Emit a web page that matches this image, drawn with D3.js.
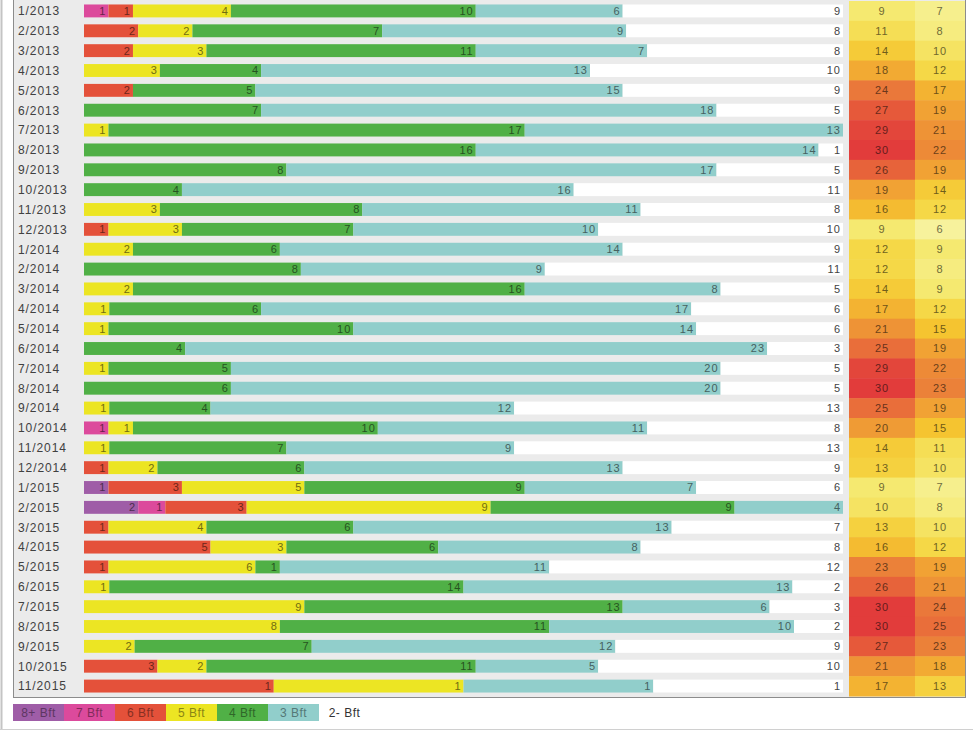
<!DOCTYPE html>
<html>
<head>
<meta charset="utf-8">
<script src="https://cdn.jsdelivr.net/npm/d3@7"></script>
<style>
  body { margin: 0; background: #fff; }
  text { font-family: "Liberation Sans", Arial, sans-serif; }
</style>
</head>
<body>
<div id="my_dataviz"></div>
<script>
// months (rows)
const months = ["1/2013","2/2013","3/2013","4/2013","5/2013","6/2013","7/2013","8/2013","9/2013","10/2013","11/2013","12/2013",
  "1/2014","2/2014","3/2014","4/2014","5/2014","6/2014","7/2014","8/2014","9/2014","10/2014","11/2014","12/2014",
  "1/2015","2/2015","3/2015","4/2015","5/2015","6/2015","7/2015","8/2015","9/2015","10/2015","11/2015"];

// days per wind force class
const bft8 = [0,0,0,0,0,0,0,0,0,0,0,0,0,0,0,0,0,0,0,0,0,0,0,0,1,2,0,0,0,0,0,0,0,0,0];
const bft7 = [1,0,0,0,0,0,0,0,0,0,0,0,0,0,0,0,0,0,0,0,0,1,0,0,0,1,0,0,0,0,0,0,0,0,0];
const bft6 = [1,2,2,0,2,0,0,0,0,0,0,1,0,0,0,0,0,0,0,0,0,0,0,1,3,3,1,5,1,0,0,0,0,3,1];
const bft5 = [4,2,3,3,0,0,1,0,0,0,3,3,2,0,2,1,1,0,1,0,1,1,1,2,5,9,4,3,6,1,9,8,2,2,1];
const bft4 = [10,7,11,4,5,7,17,16,8,4,8,7,6,8,16,6,10,4,5,6,4,10,7,6,9,9,6,6,1,14,13,11,7,11,0];
const bft3 = [6,9,7,13,15,18,13,14,17,16,11,10,14,9,8,17,14,23,20,20,12,11,9,13,7,4,13,8,11,13,6,10,12,5,1];
const bft2 = [9,8,8,10,9,5,0,1,5,11,8,10,9,11,5,6,6,3,5,5,13,8,13,9,6,0,7,8,12,2,3,2,9,10,1];

// temperature columns
const tempHigh = [9,11,14,18,24,27,29,30,26,19,16,9,12,12,14,17,21,25,29,30,25,20,14,13,9,10,13,16,23,26,30,30,27,21,17];
const tempLow  = [7,8,10,12,17,19,21,22,19,14,12,6,9,8,9,12,15,19,22,23,19,15,11,10,7,8,10,12,19,21,24,25,23,18,13];

const classes = ["8+ Bft","7 Bft","6 Bft","5 Bft","4 Bft","3 Bft","2- Bft"];
const classColors = ["#9f5da7","#dc4a9c","#e4513a","#ece523","#50b046","#91cecb","#ffffff"];
const series = [bft8, bft7, bft6, bft5, bft4, bft3, bft2];

const width = 973, height = 731;

const svg = d3.select("#my_dataviz")
  .append("svg")
    .attr("width", width)
    .attr("height", height);

// outer frame
svg.append("line").attr("x1", 1.5).attr("x2", 1.5).attr("y1", 0).attr("y2", 729.5)
  .attr("stroke", "#c4c4c4").attr("stroke-width", 2);
svg.append("line").attr("x1", 0).attr("x2", width).attr("y1", 729.5).attr("y2", 729.5)
  .attr("stroke", "#d0d0d0");

// panel
svg.append("rect")
  .attr("x", 13.5).attr("y", -2)
  .attr("width", 952).attr("height", 699.5)
  .attr("fill", "#ebebeb")
  .attr("stroke", "#8c8c8c");

const y = d3.scaleBand()
  .domain(months)
  .range([1, 696])
  .paddingInner(0.35)
  .paddingOuter(0.175);

const x = d3.scaleLinear()
  .domain([0, 1])
  .range([84, 843]);

// stacked rows, normalised per month
const rows = months.map((m, i) => {
  const vals = series.map(s => s[i]);
  const total = d3.sum(vals);
  let acc = 0;
  const segs = vals.map((v, k) => {
    const s = {month: m, k: k, value: v, x0: acc / total, x1: (acc + v) / total};
    acc += v;
    return s;
  });
  return segs;
});
const segs = rows.flat();

svg.append("g")
  .selectAll("rect")
  .data(segs.filter(d => d.value > 0))
  .join("rect")
    .attr("x", d => x(d.x0))
    .attr("y", d => y(d.month))
    .attr("width", d => x(d.x1) - x(d.x0))
    .attr("height", y.bandwidth())
    .attr("fill", d => classColors[d.k]);

svg.append("g")
  .selectAll("text")
  .data(segs.filter(d => d.value > 0))
  .join("text")
    .attr("x", d => x(d.x1) - 2)
    .attr("y", d => y(d.month) + y.bandwidth() / 2)
    .attr("dy", "0.36em")
    .attr("text-anchor", "end")
    .style("font-size", "11px")
    .style("letter-spacing", "1px")
    .attr("fill", d => d.k === 6 ? "#444" : d3.color(classColors[d.k]).darker(2.1))
    .text(d => d.value);

// month labels
svg.append("g")
  .selectAll("text")
  .data(months)
  .join("text")
    .attr("x", 18)
    .attr("y", d => y(d) + y.bandwidth() / 2)
    .attr("dy", "0.36em")
    .style("font-size", "12px")
    .style("letter-spacing", "0.9px")
    .attr("fill", "#404040")
    .text(d => d);

// temperature heat columns
const heat = d3.scaleLinear()
  .domain([6, 9, 12, 15, 18, 21, 24, 27, 30])
  .range(["#f7f29c","#f5e970","#f5d847","#f5c430","#f2aa33","#ee9336","#ea783a","#e6593a","#e23c3b"]);

const heatCols = [
  {values: tempHigh, x0: 849, w: 66},
  {values: tempLow, x0: 915, w: 50}
];
const pad = y.step() * y.paddingInner() / 2;

heatCols.forEach(col => {
  const g = svg.append("g");
  g.selectAll("rect")
    .data(months)
    .join("rect")
      .attr("x", col.x0)
      .attr("y", d => y(d) - pad)
      .attr("width", col.w)
      .attr("height", y.step() + 0.5)
      .attr("fill", (d, i) => heat(col.values[i]));
  g.selectAll("text")
    .data(months)
    .join("text")
      .attr("x", col.x0 + col.w / 2)
      .attr("y", d => y(d) + y.bandwidth() / 2)
      .attr("dy", "0.36em")
      .attr("text-anchor", "middle")
      .style("font-size", "11px")
      .style("letter-spacing", "1px")
      .attr("fill", (d, i) => d3.color(heat(col.values[i])).darker(2.2))
      .text((d, i) => col.values[i]);
});

// legend
const legend = svg.append("g")
  .selectAll("g")
  .data(classes)
  .join("g")
    .attr("transform", (d, i) => `translate(${13 + i * 51},704)`);

legend.append("rect")
  .attr("width", 51)
  .attr("height", 17)
  .attr("fill", (d, i) => classColors[i]);

legend.append("text")
  .attr("x", 25.5)
  .attr("y", 8.5)
  .attr("dy", "0.36em")
  .attr("text-anchor", "middle")
  .style("font-size", "12px")
  .style("letter-spacing", "0.5px")
  .attr("fill", (d, i) => i === 6 ? "#333" : d3.color(classColors[i]).darker(1.5))
  .text(d => d);
</script>
</body>
</html>
